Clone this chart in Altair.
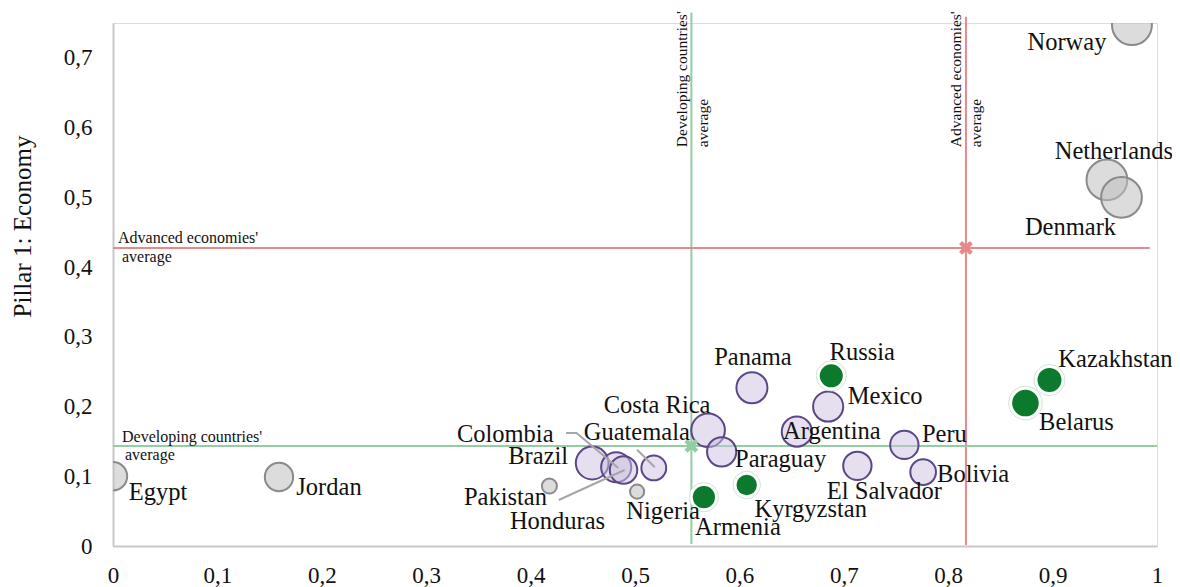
import math
import altair as alt
import pandas as pd

# ---------------- data ----------------
countries = ["Norway", "Netherlands", "Denmark", "Egypt", "Jordan", "Pakistan", "Nigeria",
             "Brazil", "Colombia", "Honduras", "Guatemala", "Costa Rica", "Paraguay", "Panama",
             "Argentina", "Mexico", "El Salvador", "Peru", "Bolivia",
             "Russia", "Armenia", "Kyrgyzstan", "Kazakhstan", "Belarus"]
pillar_x = [0.976, 0.952, 0.966, 0.000, 0.159, 0.418, 0.502,
            0.459, 0.482, 0.489, 0.518, 0.570, 0.583, 0.612,
            0.655, 0.685, 0.713, 0.758, 0.776,
            0.688, 0.566, 0.607, 0.897, 0.874]
pillar_y = [0.747, 0.525, 0.500, 0.100, 0.099, 0.086, 0.078,
            0.119, 0.113, 0.109, 0.112, 0.166, 0.135, 0.227,
            0.164, 0.200, 0.115, 0.145, 0.106,
            0.244, 0.070, 0.0875, 0.238, 0.205]
bubble = [47, 48, 48, 34, 34, 19, 18,
          39, 36, 33, 30, 40, 35, 37,
          36, 36, 34, 34, 31,
          28, 27, 25, 29, 32]
group = ["other"] * 7 + ["latam"] * 12 + ["cis"] * 5

dev_avg_x, dev_avg_y = 0.554, 0.1435
adv_avg_x, adv_avg_y = 0.817, 0.4275

x_ticks = [0, 0.1, 0.2, 0.3, 0.4, 0.5, 0.6, 0.7, 0.8, 0.9, 1.0]
y_ticks = [0, 0.1, 0.2, 0.3, 0.4, 0.5, 0.6, 0.7]

# ---------------- layout / style ----------------
W, H = 1044, 523
XD, YD = [0, 1], [0, 0.75]
FONT = "Liberation Serif"

# label offsets in pixels (dx, dy) from bubble centre
label_off = {
    "Norway": (-65, 18), "Netherlands": (7, -28), "Denmark": (-51, 31),
    "Egypt": (45, 17), "Jordan": (50, 11), "Pakistan": (-44, 12),
    "Honduras": (-66, 52), "Nigeria": (26, 20), "Brazil": (-54, -6),
    "Colombia": (-111, -32), "Guatemala": (-17, -35), "Costa Rica": (-51, -24),
    "Panama": (1, -30), "Paraguay": (59, 8), "Armenia": (34, 31),
    "Kyrgyzstan": (64, 25), "Argentina": (35, 0), "Russia": (31, -23),
    "Mexico": (57, -10), "Peru": (40, -10), "Bolivia": (50, 3),
    "El Salvador": (27, 26), "Kazakhstan": (66, -20), "Belarus": (51, 20),
}

df = pd.DataFrame({"country": countries, "x": pillar_x, "y": pillar_y,
                   "d": bubble, "group": group})
df["area"] = [math.pi * (d / 2 - 1) ** 2 for d in df["d"]]
df["ring"] = [math.pi * (d / 2 + 3) ** 2 for d in df["d"]]
df["lx"] = [x + label_off[c][0] / W * (XD[1] - XD[0]) for c, x in zip(df["country"], df["x"])]
df["ly"] = [y - label_off[c][1] / H * (YD[1] - YD[0]) for c, y in zip(df["country"], df["y"])]

xs = alt.Scale(domain=XD, nice=False, zero=False)
ys = alt.Scale(domain=YD, nice=False, zero=False)

fmt = "replace(format(datum.value, '.1~f'), '.', ',')"
X = alt.X("x:Q", scale=xs, axis=alt.Axis(values=x_ticks, labelExpr=fmt, title=None, grid=False,
                                          ticks=False, tickSize=0, labelPadding=18, labelFlush=False,
                                          labelFont=FONT, labelFontSize=23, labelColor="#111",
                                          domainColor="#c8c8c8", domainWidth=2))
Y = alt.Y("y:Q", scale=ys, axis=alt.Axis(values=y_ticks, labelExpr=fmt, title="Pillar 1: Economy",
                                          grid=False, ticks=False, tickSize=0, labelPadding=21,
                                          labelFlush=False,
                                          labelFont=FONT, labelFontSize=23, labelColor="#111",
                                          titleFont=FONT, titleFontSize=25, titleFontWeight="normal",
                                          titleColor="#111", titleX=-91, titleY=203,
                                          titleBaseline="middle", titleAlign="center",
                                          domainColor="#c8c8c8", domainWidth=2))

base = alt.Chart(df)

gray = base.transform_filter("datum.group == 'other'").mark_circle(
    clip=True, fill="#bfbfbf", fillOpacity=0.55, stroke="#8a8a8a", strokeWidth=2, opacity=1
).encode(x=X, y=Y, size=alt.Size("area:Q", scale=None))

purple = base.transform_filter("datum.group == 'latam'").mark_circle(
    clip=True, fill="#cbbfe0", fillOpacity=0.5, stroke="#5b4786", strokeWidth=2, opacity=1
).encode(x=X, y=Y, size=alt.Size("area:Q", scale=None))

green_ring = base.transform_filter("datum.group == 'cis'").mark_circle(
    clip=True, fill="#ffffff", fillOpacity=1, stroke="#cfe6d4", strokeWidth=1, opacity=1
).encode(x=X, y=Y, size=alt.Size("ring:Q", scale=None))

green = base.transform_filter("datum.group == 'cis'").mark_circle(
    clip=True, fill="#0b7a2c", fillOpacity=1, opacity=1
).encode(x=X, y=Y, size=alt.Size("area:Q", scale=None))

# leader lines
leader = pd.DataFrame({
    "id": ["Colombia", "Colombia", "Colombia", "Honduras", "Honduras", "Guatemala", "Guatemala"],
    "o": [0, 1, 2, 0, 1, 0, 1],
    "x": [0.434, 0.444, 0.484, 0.427, 0.490, 0.502, 0.519],
    "y": [0.162, 0.162, 0.112, 0.066, 0.109, 0.138, 0.113],
})
leaders = alt.Chart(leader).mark_line(color="#a6a6a6", strokeWidth=2).encode(
    x=alt.X("x:Q", scale=xs), y=alt.Y("y:Q", scale=ys), detail="id:N", order="o:Q")

labels = base.mark_text(font=FONT, fontSize=24.5, color="#111", align="center",
                        baseline="middle").encode(
    x=alt.X("lx:Q", scale=xs), y=alt.Y("ly:Q", scale=ys), text="country:N")

# average lines
vrules = pd.DataFrame({"x": [dev_avg_x, adv_avg_x], "y": [0.003, 0.0015], "y2": [0.765, 0.759],
                       "c": ["dev", "adv"]})
hrules = pd.DataFrame({"y": [dev_avg_y, adv_avg_y], "x": [0.0, 0.0], "x2": [1.0, 0.993],
                       "c": ["dev", "adv"]})
rc = alt.Color("c:N", scale=alt.Scale(domain=["dev", "adv"], range=["#93cea3", "#e8888b"]), legend=None)
vr = alt.Chart(vrules).mark_rule(strokeWidth=2, clip=False).encode(
    x=alt.X("x:Q", scale=xs), y=alt.Y("y:Q", scale=ys), y2="y2:Q", color=rc)
hr = alt.Chart(hrules).mark_rule(strokeWidth=2, clip=False).encode(
    y=alt.Y("y:Q", scale=ys), x=alt.X("x:Q", scale=xs), x2="x2:Q", color=rc)

XPATH = ("M-1,-0.55L-0.55,-1L0,-0.45L0.55,-1L1,-0.55L0.45,0L1,0.55L0.55,1L0,0.45"
         "L-0.55,1L-1,0.55L-0.45,0Z")
avgs = pd.DataFrame({"x": [dev_avg_x, adv_avg_x], "y": [dev_avg_y, adv_avg_y], "c": ["dev", "adv"]})
marks_x = alt.Chart(avgs).mark_point(shape=XPATH, filled=True, size=190, opacity=1).encode(
    x=alt.X("x:Q", scale=xs), y=alt.Y("y:Q", scale=ys),
    color=alt.Color("c:N", scale=alt.Scale(domain=["dev", "adv"], range=["#2f9a4e", "#c0141c"]), legend=None))

# average annotations
ann_layers = []
for t, yv, dx, dy in [("Advanced economies'", adv_avg_y, 5, -10), ("average", adv_avg_y, 9, 9),
                      ("Developing countries'", dev_avg_y, 9, -9), ("average", dev_avg_y, 12, 9)]:
    d = pd.DataFrame({"t": [t], "x": [0.0], "y": [yv]})
    ann_layers.append(alt.Chart(d).mark_text(font=FONT, fontSize=16, color="#111", align="left",
                                             baseline="middle", dx=dx, dy=dy).encode(
        x=alt.X("x:Q", scale=xs), y=alt.Y("y:Q", scale=ys), text="t:N"))

label_row_y = 0.572
for t, xv, off in [("Developing countries'", dev_avg_x, -9), ("average", dev_avg_x, 12),
                   ("Advanced economies'", adv_avg_x, -10), ("average", adv_avg_x, 10)]:
    d = pd.DataFrame({"t": [t], "x": [xv], "y": [label_row_y]})
    ann_layers.append(alt.Chart(d).mark_text(font=FONT, fontSize=15.5, color="#111", align="left",
                                             baseline="middle", angle=270, dy=off).encode(
        x=alt.X("x:Q", scale=xs), y=alt.Y("y:Q", scale=ys), text="t:N"))

chart = alt.layer(
    vr, hr, gray, purple, green_ring, green, leaders, marks_x, labels, *ann_layers
).properties(
    width=W, height=H,
    padding={"left": 105, "top": 15, "right": 15, "bottom": 41},
    autosize=alt.AutoSizeParams(type="none"),
).configure_view(stroke=None).configure(background="#ffffff")

chart.save("out.html", embed_options={"renderer": "svg", "actions": False})
